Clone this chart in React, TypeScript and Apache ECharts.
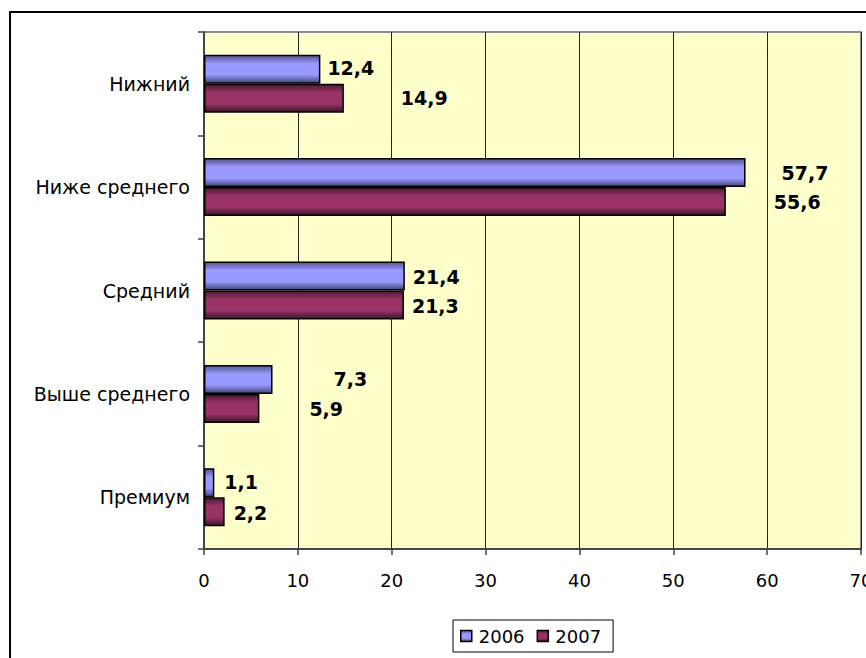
import React, { useEffect, useRef } from "react";
import * as echarts from "echarts";

const categories = ["Нижний", "Ниже среднего", "Средний", "Выше среднего", "Премиум"];
const seriesNames = ["2006", "2007"];
const values2006 = [12.4, 57.7, 21.4, 7.3, 1.1];
const values2007 = [14.9, 55.6, 21.3, 5.9, 2.2];
const xTicks = { min: 0, max: 70, interval: 10 };

// label placement offsets (dx, dy) as in the reference
const offsets2006 = [[2, -1], [31, 0], [3, 1], [56, 0], [5, -1]];
const offsets2007 = [[52, 0], [43, 0], [3, 1], [45, 1], [4, 1]];

const FONT = "DejaVu Sans";

const fmt = (v: number) => String(v).replace(".", ",");

function grad(dark: string, mid: string, dark2: string) {
  return new echarts.graphic.LinearGradient(0, 0, 0, 1, [
    { offset: 0, color: dark },
    { offset: 0.3, color: mid },
    { offset: 0.7, color: mid },
    { offset: 1, color: dark2 },
  ]);
}

export default function App() {
  const ref = useRef<HTMLDivElement>(null);
  useEffect(() => {
    document.body.style.margin = "0";
    const chart = echarts.init(ref.current!, undefined, { renderer: "svg" });
    const mkData = (vals: number[], offs: number[][]) =>
      vals.map((v, i) => ({
        value: v,
        label: { offset: offs[i] },
      }));
    const labelCfg = {
      show: true,
      position: "right",
      distance: 5,
      formatter: (p: any) => fmt(p.value),
      color: "#000",
      fontFamily: FONT,
      fontWeight: "bold",
      fontSize: 19,
    };
    chart.setOption({
      animation: false,
      backgroundColor: "#ffffff",
      graphic: [
        {
          type: "rect",
          shape: { x: 10, y: 12, width: 900, height: 700 },
          style: { fill: "none", stroke: "#000", lineWidth: 2 },
          silent: true,
        },
      ],
      grid: {
        left: 204,
        top: 32,
        right: 5,
        bottom: 109,
        containLabel: false,
        outerBoundsMode: "none",
        show: true,
        backgroundColor: "#FFFFCC",
        borderColor: "#8c8c8c",
        borderWidth: 2,
      },
      legend: {
        data: seriesNames,
        left: 453,
        top: 620,
        orient: "horizontal",
        icon: "rect",
        itemWidth: 11,
        itemHeight: 11,
        itemGap: 12,
        padding: [7, 12, 7, 7],
        borderColor: "#000",
        borderWidth: 1,
        backgroundColor: "#fff",
        textStyle: { fontFamily: FONT, fontSize: 18, color: "#000", padding: [0, 0, 0, 2] },
        itemStyle: { borderColor: "#000", borderWidth: 1.5 },
      },
      xAxis: {
        type: "value",
        min: xTicks.min,
        max: xTicks.max,
        interval: xTicks.interval,
        axisLine: { show: true, lineStyle: { color: "#444", width: 2 } },
        axisTick: { show: true, length: 6, lineStyle: { color: "#444", width: 1.5 } },
        axisLabel: { fontFamily: FONT, fontSize: 18, color: "#000", margin: 22 },
        splitLine: { show: true, lineStyle: { color: "#222", width: 1 } },
      },
      yAxis: {
        type: "category",
        data: categories,
        inverse: true,
        axisLine: { show: true, lineStyle: { color: "#444", width: 2 } },
        axisTick: { show: true, length: 6, lineStyle: { color: "#444", width: 1.5 } },
        axisLabel: { fontFamily: FONT, fontSize: 19, color: "#000", margin: 14 },
        splitLine: { show: false },
      },
      series: [
        {
          name: seriesNames[0],
          type: "bar",
          barWidth: 29,
          barGap: "0%",
          data: mkData(values2006, offsets2006),
          itemStyle: {
            color: grad("#55558f", "#9999ff", "#45457a"),
            borderColor: "#000",
            borderWidth: 1.5,
          },
          label: labelCfg,
        },
        {
          name: seriesNames[1],
          type: "bar",
          barWidth: 29,
          barGap: "0%",
          data: mkData(values2007, offsets2007),
          itemStyle: {
            color: grad("#4d1a33", "#993366", "#3d1428"),
            borderColor: "#000",
            borderWidth: 1.5,
          },
          label: labelCfg,
        },
      ],
    });
    return () => chart.dispose();
  }, []);
  return <div ref={ref} style={{ width: 866, height: 658 }} />;
}
